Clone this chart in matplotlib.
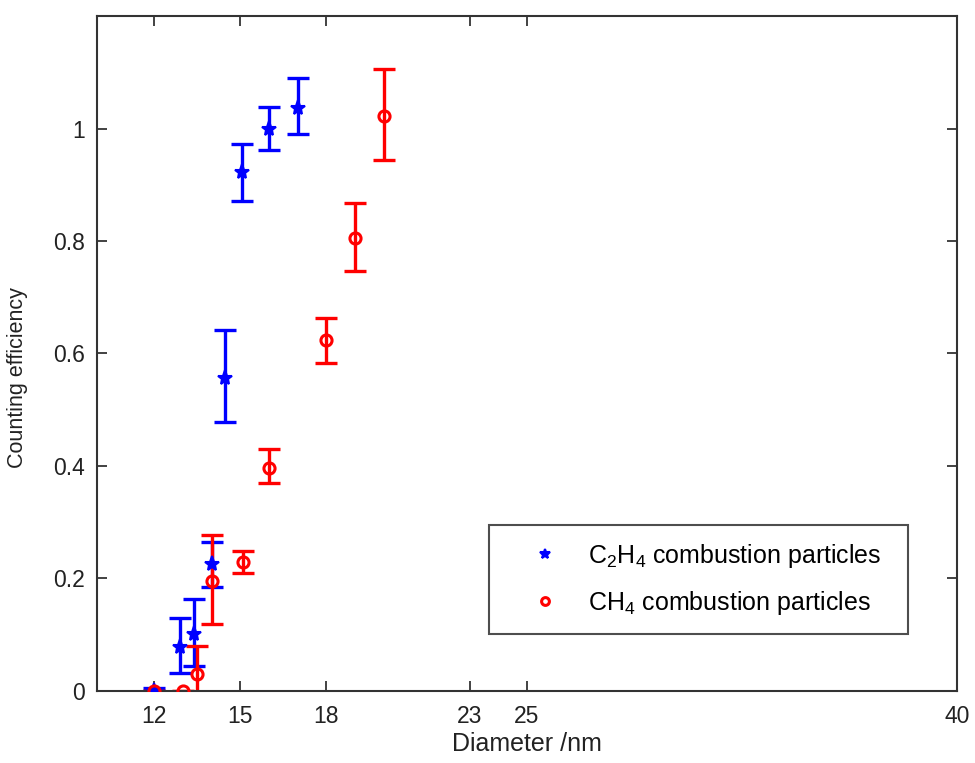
import matplotlib
matplotlib.use("Agg")
import matplotlib.pyplot as plt
import numpy as np

plt.rcParams['font.family'] = ['Liberation Sans', 'DejaVu Sans']
plt.rcParams['mathtext.fontset'] = 'custom'
plt.rcParams['mathtext.rm'] = 'Liberation Sans'
plt.rcParams['mathtext.it'] = 'Liberation Sans'

# C2H4 combustion particles
c2h4_d = [12.0, 12.9, 13.4, 14.0, 14.45, 15.05, 16.0, 17.0]
c2h4_eff = [0.0, 0.078, 0.102, 0.226, 0.557, 0.922, 0.999, 1.037]
c2h4_lo = [0.0, 0.032, 0.045, 0.185, 0.478, 0.871, 0.962, 0.990]
c2h4_hi = [0.005, 0.129, 0.164, 0.265, 0.641, 0.972, 1.038, 1.090]

# CH4 combustion particles
ch4_d = [12.0, 13.0, 13.5, 14.0, 15.1, 16.0, 18.0, 19.0, 20.0]
ch4_eff = [0.0, 0.0, 0.030, 0.196, 0.229, 0.397, 0.624, 0.806, 1.022]
ch4_lo = [0.0, 0.0, -0.02, 0.119, 0.209, 0.370, 0.583, 0.747, 0.944]
ch4_hi = [0.0, 0.0, 0.080, 0.278, 0.248, 0.430, 0.664, 0.867, 1.106]

xticks = [12, 15, 18, 23, 25, 40]
yticks = [0, 0.2, 0.4, 0.6, 0.8, 1]
ytick_labels = ['0', '0.2', '0.4', '0.6', '0.8', '1']

fig = plt.figure(figsize=(9.75, 7.63), dpi=100)
ax = fig.add_axes([0.0995, 0.0944, 0.882, 0.8846])

def err(v, lo, hi):
    v = np.array(v); return [v - np.array(lo), np.array(hi) - v]

ax.errorbar(c2h4_d, c2h4_eff, yerr=err(c2h4_eff, c2h4_lo, c2h4_hi), fmt='none',
            ecolor='#0000ff', elinewidth=2.4, capsize=8, capthick=2.4, zorder=2)
ax.errorbar(ch4_d, ch4_eff, yerr=err(ch4_eff, ch4_lo, ch4_hi), fmt='none',
            ecolor='#ff0000', elinewidth=2.4, capsize=8, capthick=2.4, zorder=2)
ax.plot(c2h4_d, c2h4_eff, linestyle='none', marker='*', markersize=11,
        color='#0000ff', markeredgewidth=1.5, label=r'C$_2$H$_4$ combustion particles', zorder=3)
ax.plot(ch4_d, ch4_eff, linestyle='none', marker='o', markersize=8,
        markerfacecolor='none', markeredgecolor='#ff0000', markeredgewidth=2.2,
        label=r'CH$_4$ combustion particles', zorder=3)

ax.set_xlim(10, 40)
ax.set_ylim(0, 1.2)
ax.set_xticks(xticks)
ax.set_yticks(yticks)
ax.set_yticklabels(ytick_labels)
ax.tick_params(direction='in', top=True, right=True, length=7, width=1.2,
               labelsize=16.5, colors='#222222')
ax.tick_params(axis='x', pad=10)
ax.tick_params(axis='y', pad=9)
for s in ax.spines.values():
    s.set_linewidth(1.5)
    s.set_color('#333333')
ax.set_xlabel('Diameter /nm', fontsize=18, color='#222222', labelpad=3)
ax.set_ylabel('Counting efficiency', fontsize=15.5, color='#222222')
ax.yaxis.set_label_coords(-0.080, 0.464)

leg = ax.legend(loc='lower left', bbox_to_anchor=(0.456, 0.084, 0.487, 0.162),
                mode='expand', fontsize=18, frameon=True, fancybox=False,
                edgecolor='#222222', borderpad=0.69, handletextpad=0.2,
                handlelength=3.05, labelspacing=0.77, markerscale=0.7,
                borderaxespad=0)
leg.get_frame().set_linewidth(1.5)

fig.savefig('out.png', dpi=100)
